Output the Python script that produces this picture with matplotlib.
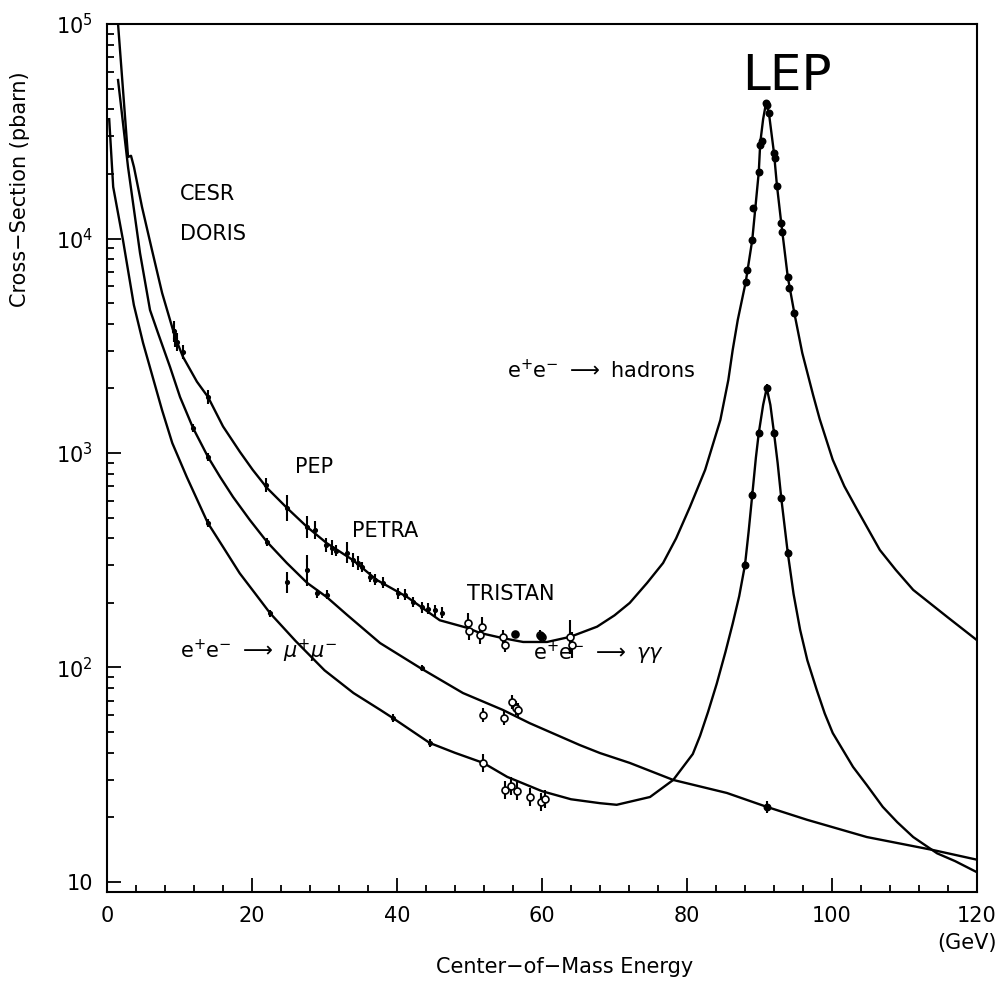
import numpy as np
import matplotlib
matplotlib.use('Agg')
import matplotlib.pyplot as plt
from matplotlib.ticker import MultipleLocator, LogLocator, NullFormatter

plt.rcParams['font.family'] = ['DejaVu Sans']
plt.rcParams['mathtext.fontset'] = 'dejavusans'

# Kurven (GeV, pb)
had_x = [1.52, 2.9, 3.31, 3.72, 4.83, 6.2, 7.6, 9.38, 10.48, 12.4, 13.93, 16.0, 18.34, 20.1,
         22.07, 24.83, 27.6, 30.3, 33.9, 37.2, 41.4, 45.9, 49.7, 51.4, 54.6, 57.4, 60.7, 63.9,
         67.6, 70.0, 72.1, 74.5, 76.7, 78.5, 80.4, 82.5, 84.6, 85.7, 86.3, 87.0, 88.1, 89.0,
         89.4, 89.9, 90.1, 90.5, 90.9, 91.3, 92.0, 92.4, 93.0, 93.9, 94.8, 95.9, 97.4, 98.3,
         100.1, 101.7, 103.4, 106.6, 108.8, 111.2, 115.9, 120]
had_y = [100000, 24000, 24300, 21500, 14000, 8840, 5570, 3475, 2805, 2150, 1824, 1330, 1011, 834,
         687, 554, 452, 380, 317, 256, 213, 166, 153, 145, 137, 131.5, 131.5, 139,
         155, 175, 200, 248, 307, 400, 560, 834, 1425, 2190, 3020, 4170, 6270, 9840,
         13600, 20400, 27900, 36000, 42800, 38400, 25000, 17750, 11800, 6620, 4500, 2925, 1860, 1440,
         930, 700, 550, 353, 285, 230, 172, 134]

mu_x = [0.3, 0.85, 2.2, 3.7, 4.97, 6.3, 7.59, 9.0, 11.0, 13.9, 16.0, 18.3, 20.4, 22.5, 26.0,
        30.0, 34.0, 37.7, 39.4, 44.5, 48.0, 51.9, 55.2, 60.0, 64.0, 68.0, 70.3, 74.9, 78.1,
        80.8, 81.8, 82.9, 84.1, 85.3, 86.3, 87.2, 88.0, 88.5, 89.0, 89.5, 89.9, 90.5, 91.0,
        91.5, 92.0, 92.5, 93.0, 93.9, 94.7, 95.6, 96.6, 97.9, 99.0, 100.1, 102.9, 104.8,
        107.0, 109.0, 111.2, 114.5, 117.0, 120]
mu_y = [36000, 17400, 9840, 4900, 3260, 2260, 1585, 1113, 773, 472, 365, 275, 222, 179, 133,
        97, 76, 63.4, 58.2, 44.5, 40, 35.9, 30.9, 26.5, 24.3, 23.3, 22.9, 24.9, 29.9,
        39.5, 48, 62, 84, 118, 160, 215, 301, 430, 637, 950, 1240, 1675, 2010,
        1675, 1240, 900, 617, 342, 220, 150, 108, 78.5, 61, 49.5, 34.4, 28.3,
        22.4, 19.0, 16.2, 13.6, 12.5, 11.1]

gg_x = [1.52, 2.9, 4.55, 5.93, 7.03, 8.69, 10.07, 11.86, 13.93, 15.6, 17.38, 19.7, 22.07, 24.8,
        27.6, 30.3, 33.1, 37.66, 43.2, 49.1, 54.6, 58.3, 65.2, 68.0, 72.1, 78.1, 85.5, 91.0,
        96.55, 104.8, 113.9, 120]
gg_y = [54800, 21500, 8560, 4640, 3625, 2518, 1824, 1309, 958, 773, 624, 487, 385, 307,
        248, 213, 176, 130, 99.5, 76, 63.4, 55, 43.5, 39.9, 35.9, 29.9, 26.0, 22.4,
        19.5, 16.2, 14.1, 12.7]

# Messpunkte (x, y, relativer Fehler)
had_lo_x = [9.2, 9.4, 9.6, 10.5, 13.9, 21.9, 24.8, 27.6, 28.7, 30.2, 31.0, 31.6, 33.1, 33.9,
            34.6, 35.2, 36.3, 37.0, 38.1, 40.1, 41.1, 42.2, 43.4, 44.3, 45.2, 46.2]
had_lo_y = [3700, 3450, 3300, 2960, 1824, 710, 554, 452, 437, 372, 362, 350, 342, 317,
            307, 294, 264, 256, 248, 222, 218, 202, 191, 188, 185, 180]
had_lo_e = [0.12, 0.1, 0.1, 0.08, 0.08, 0.08, 0.15, 0.12, 0.1, 0.08, 0.08, 0.06, 0.12, 0.08,
            0.08, 0.06, 0.06, 0.06, 0.06, 0.06, 0.06, 0.06, 0.06, 0.06, 0.06, 0.06]

had_tr_x = [49.8, 49.9, 51.7, 51.5, 54.6, 54.9, 59.7, 60.0, 63.9, 64.1]
had_tr_y = [161, 148, 154, 142, 139, 127, 142, 138, 139, 127]
had_tr_e = [0.12, 0.1, 0.12, 0.1, 0.08, 0.08, 0.05, 0.05, 0.2, 0.15]

had_tr_voll_x = [56.3, 59.8]
had_tr_voll_y = [143, 140]

had_lep_x = [88.1, 88.3, 89.0, 89.1, 89.9, 90.1, 90.3, 90.9, 91.0, 91.3, 92.0, 92.1, 92.4,
             93.0, 93.1, 93.9, 94.1, 94.8]
had_lep_y = [6270, 7130, 9840, 13900, 20400, 27300, 28500, 42800, 42000, 38400, 25000, 23700,
             17600, 11800, 10700, 6620, 5870, 4500]

mu_lep_x = [88.0, 89.0, 89.9, 91.0, 92.0, 93.0, 93.9]
mu_lep_y = [301, 637, 1240, 2010, 1240, 617, 342]

mu_lo_x = [13.9, 22.5, 39.4, 44.55]
mu_lo_y = [472, 179, 58.2, 44.5]

mu_tr_x = [51.9, 54.9, 55.7, 56.6, 58.3, 59.9, 60.4]
mu_tr_y = [35.9, 26.9, 28.0, 26.6, 24.9, 23.6, 24.4]

gg_lo_x = [11.86, 13.93, 22.07, 24.8, 27.6, 29.0, 30.3, 43.4]
gg_lo_y = [1309, 958, 385, 250, 284, 222, 218, 99.5]
gg_lo_e = [0.04, 0.04, 0.04, 0.12, 0.18, 0.05, 0.05, 0.03]

gg_tr_x = [51.9, 54.8, 55.9, 56.4, 56.7]
gg_tr_y = [60.1, 58.2, 69.0, 64.7, 63.4]

gg_lep_x = [91.0]
gg_lep_y = [22.4]


def fehler(y, e):
    y = np.asarray(y, dtype=float)
    e = np.asarray(e, dtype=float) if np.ndim(e) else np.full(len(y), e)
    return [y - y / (1 + e), y * e]


def punkte(ax, x, y, e, ms, offen=False):
    ax.errorbar(x, y, yerr=fehler(y, e), fmt='o', ms=ms, color='k',
                mfc='white' if offen else 'k', mec='k', mew=1.2,
                elinewidth=1.5, capsize=0, zorder=3)


fig = plt.figure(figsize=(10.04, 9.84), dpi=100)
ax = fig.add_axes([0.1066, 0.0935, 0.8665, 0.8821])

for cx, cy in [(had_x, had_y), (mu_x, mu_y), (gg_x, gg_y)]:
    ax.plot(cx, cy, color='k', lw=1.7)

punkte(ax, had_lo_x, had_lo_y, had_lo_e, 2.5)
punkte(ax, had_tr_x, had_tr_y, had_tr_e, 5, offen=True)
punkte(ax, had_tr_voll_x, had_tr_voll_y, 0.04, 5)
punkte(ax, had_lep_x, had_lep_y, 0.03, 4.5)
punkte(ax, mu_lep_x, mu_lep_y, 0.04, 4.5)
punkte(ax, mu_lo_x, mu_lo_y, 0.04, 2.5)
punkte(ax, mu_tr_x, mu_tr_y, 0.1, 5, offen=True)
punkte(ax, gg_lo_x, gg_lo_y, gg_lo_e, 2.5)
punkte(ax, gg_tr_x, gg_tr_y, 0.08, 5, offen=True)
punkte(ax, gg_lep_x, gg_lep_y, 0.07, 4.5)

ax.set_yscale('log')
ax.set_xlim(0, 120)
ax.set_ylim(8.98, 1e5)

ax.xaxis.set_major_locator(MultipleLocator(20))
ax.xaxis.set_minor_locator(MultipleLocator(4))
ax.set_yticks([10, 100, 1000, 1e4, 1e5])
ax.set_yticklabels(['10', r'$\mathregular{10^{2}}$', r'$\mathregular{10^{3}}$',
                    r'$\mathregular{10^{4}}$', r'$\mathregular{10^{5}}$'])
ax.yaxis.set_minor_locator(LogLocator(base=10, subs=np.arange(2, 10)))
ax.yaxis.set_minor_formatter(NullFormatter())

ax.tick_params(which='both', direction='in', top=False, right=False, labelsize=15, width=1.3)
ax.tick_params(which='major', length=10)
ax.tick_params(which='minor', length=5)
ax.tick_params(axis='x', pad=10)
ax.tick_params(axis='y', pad=10)
for s in ax.spines.values():
    s.set_linewidth(1.5)

ax.set_ylabel('Cross\u2212Section (pbarn)', fontsize=15)
ax.yaxis.set_label_coords(-0.088, 0.81)
ax.set_xlabel('Center\u2212of\u2212Mass Energy', fontsize=15)
ax.xaxis.set_label_coords(0.526, -0.075)
ax.text(0.989, -0.059, '(GeV)', transform=ax.transAxes, fontsize=15, ha='center', va='center')

ax.text(87.6, 49200, 'LEP', fontsize=36)
ax.text(10.07, 15100, 'CESR', fontsize=15)
ax.text(10.07, 9840, 'DORIS', fontsize=15)
ax.text(25.9, 807, 'PEP', fontsize=15)
ax.text(33.8, 406, 'PETRA', fontsize=15)
ax.text(49.7, 206, 'TRISTAN', fontsize=15)
ax.text(55.2, 2236, r'e$^{+}$e$^{-}$ $\longrightarrow$ hadrons', fontsize=15)
ax.text(10.07, 110.7, r'e$^{+}$e$^{-}$ $\longrightarrow$ $\mu^{+}\mu^{-}$', fontsize=15)
ax.text(58.8, 108.4, r'e$^{+}$e$^{-}$ $\longrightarrow$ $\gamma\gamma$', fontsize=15)

fig.savefig('out.png', dpi=100)
